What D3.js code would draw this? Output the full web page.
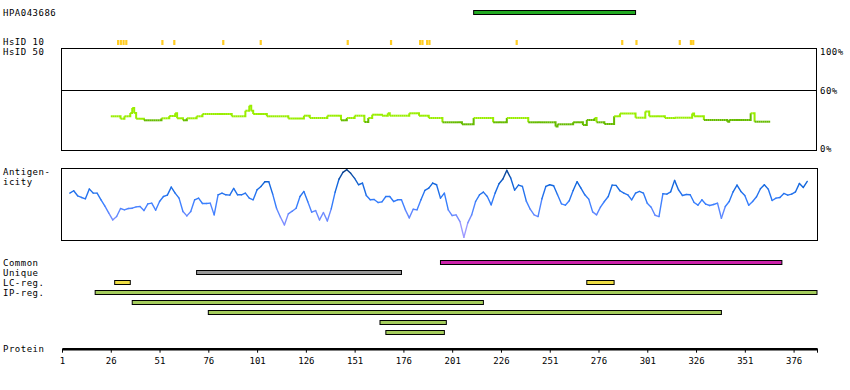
<!DOCTYPE html>
<html>
<head>
<meta charset="utf-8">
<script src="https://cdn.jsdelivr.net/npm/d3@7.9.0/dist/d3.min.js"></script>
<style>
  body { margin: 0; background: #fff; }
  text { font-family: "DejaVu Sans Mono", monospace; font-size: 9px; fill: #000; }
  .lbl { letter-spacing: 0.5px; }
</style>
</head>
<body>
<svg id="chart" width="850" height="390"></svg>
<script>
// Protein / antigen data
const proteinLength = 388;
const axisTicks = [1, 26, 51, 76, 101, 126, 151, 176, 201, 226, 251, 276, 301, 326, 351, 376];

const antigenName = "HPA043686";
const antigenRange = [212, 295];

// residues with HsID 10 hits
const hsid10Hits = [29.2, 30.6, 32, 33.4, 51.9, 58, 83.1, 102.3, 146.9, 169.1,
  184, 185.2, 187.6, 188.8, 233.5, 287.6, 294.9, 317.1, 322.8, 324];

// similarity (%) as runs: [from residue, to residue, percent]
const similarityRuns = [
  [26, 30, 33.7], [31, 32, 31.3], [33, 35, 33.7], [36, 36, 37], [37, 37, 42],
  [38, 38, 37], [39, 42, 31.3], [43, 51, 29.7], [52, 55, 31.7], [56, 58, 34],
  [59, 59, 36.7], [60, 62, 31.7], [63, 64, 29.7], [65, 69, 31.7], [70, 72, 33.7],
  [73, 87, 36], [88, 94, 33.7], [95, 96, 39.3], [97, 97, 44.3], [98, 98, 39.3],
  [99, 105, 36], [106, 116, 33.7], [117, 124, 31.5], [125, 127, 34.3], [128, 136, 32],
  [137, 143, 34.3], [144, 146, 29.7], [147, 150, 32], [151, 155, 34.3], [156, 157, 28],
  [158, 159, 32], [160, 164, 35.3], [165, 167, 34.3], [168, 168, 36.7], [169, 178, 34.3],
  [179, 183, 36.7], [184, 188, 34.3], [189, 195, 32], [196, 205, 27.7], [206, 211, 25.7],
  [212, 221, 32], [222, 228, 27.7], [229, 239, 32], [240, 253, 27.7], [254, 254, 23.5],
  [255, 262, 25.7], [263, 267, 27.7], [268, 269, 25], [270, 273, 30], [274, 274, 32],
  [275, 278, 27.7], [279, 283, 26], [284, 286, 33.7], [287, 294, 36.5], [295, 299, 32.3],
  [300, 301, 38.5], [302, 309, 33.7], [310, 314, 32], [315, 323, 32.3], [324, 324, 36.5],
  [325, 329, 33.7], [330, 341, 30], [342, 342, 28.3], [343, 353, 30], [354, 355, 36.7],
  [356, 363, 28.3]
];
const similarityTicks = [100, 60, 0];

// antigenicity score: [residue, score]
const antigenicity = [
  [5,140],[7,147],[9,132],[11,127],[13,123],[15,152],[17,140],[19,140],[21,120],[23,101],
  [25,80],[27,60],[29,70],[31,94],[33,90],[35,94],[37,95],[39,99],[41,100],[43,88],
  [45,108],[47,110],[49,89],[51,115],[53,130],[55,134],[57,158],[59,140],[61,125],[63,85],
  [65,72],[67,85],[69,120],[71,125],[73,109],[75,109],[77,110],[79,75],[81,135],[83,140],
  [85,135],[87,134],[89,154],[91,135],[93,135],[95,140],[97,125],[99,120],[101,150],[103,160],
  [105,174],[107,174],[109,137],[111,94],[113,68],[115,45],[117,78],[119,86],[121,95],[123,130],
  [125,145],[127,114],[129,83],[131,88],[133,60],[135,82],[137,57],[139,93],[141,143],[143,182],
  [145,202],[147,210],[149,199],[151,184],[153,165],[155,170],[157,133],[159,120],[161,121],[163,112],
  [165,114],[167,130],[169,130],[171,115],[173,120],[175,120],[177,90],[179,66],[181,92],[183,90],
  [185,120],[187,148],[189,155],[191,170],[193,165],[195,125],[197,140],[199,90],[201,73],[203,75],
  [205,55],[207,8],[209,51],[211,75],[213,115],[215,135],[217,143],[219,130],[221,105],[223,140],
  [225,168],[227,182],[229,208],[231,185],[233,149],[235,164],[237,160],[239,116],[241,92],[243,75],
  [245,70],[247,123],[249,160],[251,165],[253,162],[255,135],[257,108],[259,104],[261,117],[263,148],
  [265,174],[267,155],[269,135],[271,122],[273,84],[275,75],[277,98],[279,115],[281,130],[283,164],
  [285,163],[287,147],[289,140],[291,135],[293,120],[295,140],[297,145],[299,140],[301,110],[303,98],
  [305,74],[307,70],[309,138],[311,137],[313,144],[315,178],[317,150],[319,133],[321,136],[323,135],
  [325,112],[327,104],[329,120],[331,107],[333,103],[335,106],[337,110],[339,65],[341,100],[343,115],
  [345,144],[347,164],[349,145],[351,133],[353,104],[355,115],[357,129],[359,153],[361,165],[363,152],
  [365,118],[367,125],[369,127],[371,139],[373,134],[375,137],[377,144],[379,169],[381,157],[383,175]
];

// feature tracks
const commonRegions = [[195, 370]];
const uniqueRegions = [[70, 175]];
const lcRegions = [[28, 36], [270, 284]];
const ipRegions = [[18, 388], [37, 217], [76, 339], [164, 198], [167, 197]];

const svg = d3.select("#chart");

const x = d3.scaleLinear().domain([1, proteinLength]).range([62, 817]);
const ySim = d3.scaleLinear().domain([0, 60, 100]).range([150, 90, 48]);
const yAg = d3.scaleLinear().domain([0, 215]).range([240, 168]);
const agColor = d3.scaleLinear()
  .domain([0, 50, 110, 165, 215])
  .range(["#bba8ff", "#8890ff", "#3a80ff", "#1166dd", "#0a3a7a"]);

// left labels
const leftLabels = [
  ["HPA043686", 16], ["HsID 10", 45], ["HsID 50", 55],
  ["Antigen-", 175], ["icity", 185],
  ["Common", 266], ["Unique", 276], ["LC-reg.", 286], ["IP-reg.", 296],
  ["Protein", 352]
];
svg.selectAll("text.lbl").data(leftLabels).join("text")
  .attr("class", "lbl").attr("x", 3).attr("y", d => d[1]).text(d => d[0]);

// antigen bar
svg.append("rect")
  .attr("x", x(antigenRange[0])).attr("y", 10.5)
  .attr("width", x(antigenRange[1]) - x(antigenRange[0])).attr("height", 4)
  .attr("fill", "#22aa22").attr("stroke", "#000").attr("stroke-width", 1);

// HsID 10 hits
svg.selectAll("rect.hit").data(hsid10Hits).join("rect")
  .attr("class", "hit")
  .attr("x", d => x(d)).attr("y", 40).attr("width", 2.2).attr("height", 5)
  .attr("fill", "#ffcc22");

// similarity panel frame
svg.append("rect").attr("x", 61.5).attr("y", 48.5).attr("width", 755).attr("height", 102)
  .attr("fill", "none").attr("stroke", "#000");
svg.append("line").attr("x1", 61.5).attr("x2", 816.5)
  .attr("y1", Math.round(ySim(60)) + 0.5).attr("y2", Math.round(ySim(60)) + 0.5)
  .attr("stroke", "#000");
svg.selectAll("text.pct").data(similarityTicks).join("text")
  .attr("class", "lbl pct").attr("x", 820)
  .attr("y", d => ySim(d) + (d === 100 ? 7 : d === 0 ? 1.5 : 3.5))
  .text(d => d + "%");

// similarity step line, coloured by level
const simPoints = [];
similarityRuns.forEach(([a, b, v]) => { for (let r = a; r <= b; r++) simPoints.push({ r, v }); });
svg.append("g").selectAll("path").data(simPoints).join("path")
  .attr("d", (d, i) => {
    let p = `M${x(d.r)},${ySim(d.v)}H${x(d.r + 1)}`;
    if (i < simPoints.length - 1) p += `V${ySim(simPoints[i + 1].v)}`;
    return p;
  })
  .attr("fill", "none")
  .attr("stroke", d => d.v < 30.5 ? "#66bb00" : "#99ee00")
  .attr("stroke-width", 2);

// antigenicity panel
svg.append("rect").attr("x", 61.5).attr("y", 168.5).attr("width", 756).attr("height", 72)
  .attr("fill", "none").attr("stroke", "#000");
const agSegs = d3.pairs(antigenicity);
svg.append("g").selectAll("line").data(agSegs).join("line")
  .attr("x1", d => x(d[0][0])).attr("y1", d => yAg(d[0][1]))
  .attr("x2", d => x(d[1][0])).attr("y2", d => yAg(d[1][1]))
  .attr("stroke", d => agColor((d[0][1] + d[1][1]) / 2))
  .attr("stroke-width", 1.4)
  .attr("stroke-linecap", "round");

// feature tracks
const tracks = [
  { regions: commonRegions, fill: "#cc22aa", rows: [260.5] },
  { regions: uniqueRegions, fill: "#999999", rows: [270.5] },
  { regions: lcRegions, fill: "#eedd44", rows: [280.5, 280.5] },
  { regions: ipRegions, fill: "#a4cc5c", rows: [290.5, 300.5, 310.5, 320.5, 330.5] }
];
tracks.forEach(t => {
  svg.append("g").selectAll("rect").data(t.regions).join("rect")
    .attr("x", d => x(d[0])).attr("width", d => x(d[1]) - x(d[0]))
    .attr("y", (d, i) => t.rows[i]).attr("height", 4)
    .attr("fill", t.fill).attr("stroke", "#000").attr("stroke-width", 1);
});

// protein axis
const axis = d3.axisBottom(x)
  .tickValues(axisTicks.concat([proteinLength]))
  .tickFormat(d => d === proteinLength ? "" : d)
  .tickSize(4).tickSizeOuter(0).tickPadding(5);
const gAxis = svg.append("g").attr("transform", "translate(0,348.7)").call(axis);
gAxis.select(".domain").attr("stroke-width", 2.6).attr("stroke", "#000");
gAxis.selectAll(".tick line").attr("stroke", "#000");
gAxis.selectAll(".tick text")
  .style("font-family", '"DejaVu Sans Mono", monospace').style("font-size", "9px").attr("fill", "#000");
</script>
</body>
</html>
